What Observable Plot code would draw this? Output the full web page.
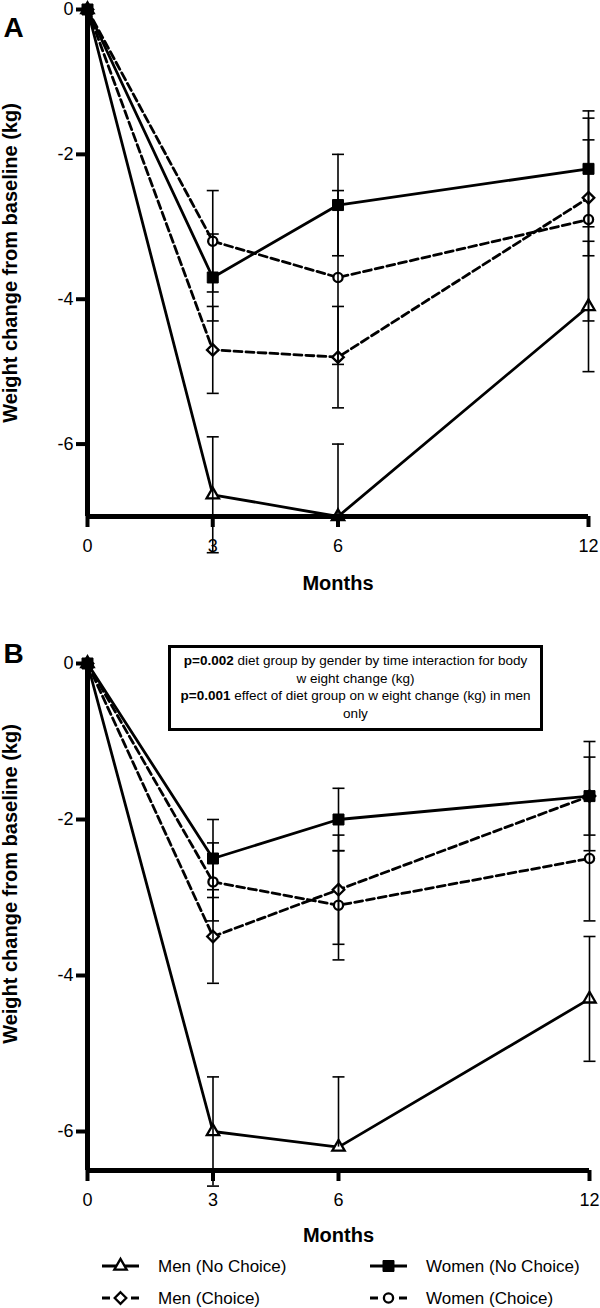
<!DOCTYPE html>
<html><head><meta charset="utf-8">
<script src="https://cdn.jsdelivr.net/npm/d3@7"></script>
<script src="https://cdn.jsdelivr.net/npm/@observablehq/plot@0.6"></script>
<style>
body{margin:0;background:#fff;font-family:"Liberation Sans",Arial,sans-serif;}
#root{position:relative;width:600px;height:1308px;overflow:hidden;background:#fff;}
.abs{position:absolute;left:0;}
#note{position:absolute;left:168px;top:645px;width:375px;height:86px;border:3px solid #000;box-sizing:border-box;font-size:13.5px;line-height:17.5px;text-align:center;padding-top:4px;color:#000;white-space:nowrap;}
</style></head><body><div id="root"></div>
<script>
// ---- data ----
const months = [0, 3, 6, 12];
const seriesNames = ["Men (No Choice)", "Men (Choice)", "Women (No Choice)", "Women (Choice)"];
const xTicks = [0, 3, 6, 12];
const yTicks = [0, -2, -4, -6];

// Panel A: mean weight change (kg)
const aMenNoChoice   = [0, -6.7, -7.0, -4.1];
const aMenChoice     = [0, -4.7, -4.8, -2.6];
const aWomenNoChoice = [0, -3.7, -2.7, -2.2];
const aWomenChoice   = [0, -3.2, -3.7, -2.9];
// Panel A: error bar half-lengths (up / down)
const aMenNoChoiceUp   = [0, 0.8, 1.0, 0.9];
const aMenNoChoiceDown = [0, 0.8, 0.0, 0.9];
const aMenChoiceErr     = [0, 0.6, 0.7, 0.8];
const aWomenNoChoiceErr = [0, 0.6, 0.7, 0.8];
const aWomenChoiceErr   = [0, 0.7, 1.2, 1.4];

// Panel B: mean weight change (kg)
const bMenNoChoice   = [0, -6.0, -6.2, -4.3];
const bMenChoice     = [0, -3.5, -2.9, -1.7];
const bWomenNoChoice = [0, -2.5, -2.0, -1.7];
const bWomenChoice   = [0, -2.8, -3.1, -2.5];
// Panel B: error bar half-lengths (up / down)
const bMenNoChoiceUp   = [0, 0.7, 0.9, 0.8];
const bMenNoChoiceDown = [0, 0.7, 0.0, 0.8];
const bMenChoiceErr     = [0, 0.6, 0.7, 0.5];
const bWomenNoChoiceErr = [0, 0.5, 0.4, 0.7];
const bWomenChoiceErr   = [0, 0.5, 0.7, 0.8];

const noteLines = [
  ["p=0.002", " diet group by gender by time interaction for body"],
  ["", "w eight change (kg)"],
  ["p=0.001", " effect of diet group on w eight change (kg) in men"],
  ["", "only"]
];
const yLabel = "Weight change from baseline (kg)";
const xLabel = "Months";

// ---- styles ----
const FONT = '"Liberation Sans", Arial, sans-serif';
const seriesStyle = {
  "Men (No Choice)":   {symbol: "triangle", r: 4.6, fill: "white", dash: null},
  "Men (Choice)":      {symbol: "diamond2", r: 5.2, fill: "white", dash: "8,4"},
  "Women (Choice)":    {symbol: "circle",   r: 4.6, fill: "white", dash: "8,4"},
  "Women (No Choice)": {symbol: "square",   r: 6.2, fill: "black", dash: null}
};
const drawOrder = ["Men (No Choice)", "Men (Choice)", "Women (Choice)", "Women (No Choice)"];
const capSymbol = {draw(ctx) { ctx.moveTo(-6, 0); ctx.lineTo(6, 0); }};

function buildRows(means, ups, downs) {
  const rows = [];
  seriesNames.forEach((s, si) => months.forEach((m, i) => {
    const mean = means[si][i];
    rows.push({series: s, month: m, mean, up: ups[si][i], down: downs[si][i],
      lo: mean - downs[si][i], hi: mean + ups[si][i]});
  }));
  return rows;
}

function panel(cfg) {
  const rows = buildRows(cfg.means, cfg.ups, cfg.downs);
  const [yMin, yMax] = cfg.yDomain;
  const marks = [];
  for (const s of drawOrder) {
    const st = seriesStyle[s];
    marks.push(Plot.line(rows.filter(d => d.series === s), {
      x: "month", y: "mean", stroke: "black", strokeWidth: 2.8,
      strokeDasharray: st.dash || undefined, strokeLinejoin: "round"
    }));
  }
  for (const s of drawOrder) {
    const st = seriesStyle[s];
    marks.push(Plot.dot(rows.filter(d => d.series === s), {
      x: "month", y: "mean", symbol: st.symbol, r: st.r,
      fill: st.fill, stroke: "black", strokeWidth: st.fill === "black" ? 1 : 2.3
    }));
  }
  marks.push(Plot.ruleX(rows.filter(d => d.up > 0 || d.down > 0), {x: "month", y1: "lo", y2: "hi", stroke: "black", strokeWidth: 1.6}));
  marks.push(Plot.dot(rows.filter(d => d.up > 0), {x: "month", y: "hi", symbol: capSymbol, fill: "none", stroke: "black", strokeWidth: 1.6}));
  marks.push(Plot.dot(rows.filter(d => d.down > 0), {x: "month", y: "lo", symbol: capSymbol, fill: "none", stroke: "black", strokeWidth: 1.6}));
  marks.push(Plot.ruleX([0], {y1: yMin, y2: yMax, stroke: "black", strokeWidth: 5}));
  marks.push(Plot.ruleY([yMin], {x1: 0, x2: 12, stroke: "black", strokeWidth: 5}));
  marks.push(Plot.axisY(yTicks, {tickSize: 11, tickPadding: 3, strokeWidth: 4, fontSize: 18, tickFormat: d => String(d), label: null}));
  marks.push(Plot.axisX(xTicks, {tickSize: 11, tickPadding: 12, strokeWidth: 4, fontSize: 18, tickFormat: d => String(d), label: null}));
  marks.push(Plot.text([yLabel], {frameAnchor: "left", textAnchor: "middle", rotate: -90, dx: -85, dy: cfg.labelDy, lineAnchor: "top", fontWeight: "bold", fontSize: 20}));
  marks.push(Plot.text([xLabel], {frameAnchor: "bottom", textAnchor: "middle", dy: cfg.monthsDy, lineAnchor: "bottom", fontWeight: "bold", fontSize: 20}));
  marks.push(Plot.text([cfg.letter], {frameAnchor: "top-left", dx: -84, dy: cfg.letterDy, textAnchor: "start", lineAnchor: "top", fontWeight: "bold", fontSize: 28}));

  return Plot.plot({
    width: 600, height: cfg.height,
    marginTop: cfg.marginTop, marginBottom: cfg.marginBottom,
    marginLeft: 87, marginRight: cfg.marginRight,
    x: {domain: [0, 12]},
    y: {domain: cfg.yDomain},
    style: {fontFamily: FONT, fontSize: "18px", color: "black", background: "white", overflow: "visible"},
    marks
  });
}

const root = document.getElementById("root");

const plotA = panel({
  means: [aMenNoChoice, aMenChoice, aWomenNoChoice, aWomenChoice],
  ups: [aMenNoChoiceUp, aMenChoiceErr, aWomenNoChoiceErr, aWomenChoiceErr],
  downs: [aMenNoChoiceDown, aMenChoiceErr, aWomenNoChoiceErr, aWomenChoiceErr],
  yDomain: [-7, 0], height: 610, marginTop: 9, marginBottom: 94, marginRight: 12,
  letter: "A", letterDy: 8, labelDy: 0, monthsDy: 73
});
plotA.classList.add("abs");
plotA.style.top = "0px";
root.appendChild(plotA);

const plotB = panel({
  means: [bMenNoChoice, bMenChoice, bWomenNoChoice, bWomenChoice],
  ups: [bMenNoChoiceUp, bMenChoiceErr, bWomenNoChoiceErr, bWomenChoiceErr],
  downs: [bMenNoChoiceDown, bMenChoiceErr, bWomenNoChoiceErr, bWomenChoiceErr],
  yDomain: [-6.5, 0], height: 640, marginTop: 53, marginBottom: 80, marginRight: 11,
  letter: "B", letterDy: -20, labelDy: -33, monthsDy: 71
});
plotB.classList.add("abs");
plotB.style.top = "610px";
root.appendChild(plotB);

// annotation box
const note = document.createElement("div");
note.id = "note";
noteLines.forEach((ln, i) => {
  if (i > 0) note.appendChild(document.createElement("br"));
  if (ln[0]) { const b = document.createElement("b"); b.textContent = ln[0]; note.appendChild(b); }
  note.appendChild(document.createTextNode(ln[1]));
});
root.appendChild(note);

// legend
const legendItems = [
  {name: "Men (No Choice)", col: 0, row: 0},
  {name: "Men (Choice)", col: 0, row: 1},
  {name: "Women (No Choice)", col: 1, row: 0},
  {name: "Women (Choice)", col: 1, row: 1}
];
const symMap = {triangle: d3.symbolTriangle, diamond2: d3.symbolDiamond2, circle: d3.symbolCircle, square: d3.symbolSquare};
const legend = d3.create("svg").attr("width", 600).attr("height", 58)
  .attr("class", "abs").style("top", "1250px").style("font-family", FONT);
const colX = [102, 370];
const rowY = [16, 48];
for (const it of legendItems) {
  const st = seriesStyle[it.name];
  const x0 = colX[it.col], y = rowY[it.row];
  legend.append("line").attr("x1", x0).attr("x2", x0 + 37).attr("y1", y).attr("y2", y)
    .attr("stroke", "black").attr("stroke-width", 2.8)
    .attr("stroke-dasharray", st.dash ? "8,21" : null);
  legend.append("path").attr("d", d3.symbol(symMap[st.symbol], Math.PI * st.r * st.r)())
    .attr("transform", `translate(${x0 + 18.5},${y})`)
    .attr("fill", st.fill).attr("stroke", "black").attr("stroke-width", st.fill === "black" ? 1 : 2.3);
  legend.append("text").attr("x", x0 + 56).attr("y", y).attr("dy", "0.35em")
    .attr("font-size", 17).text(it.name);
}
root.appendChild(legend.node());
</script></body></html>
